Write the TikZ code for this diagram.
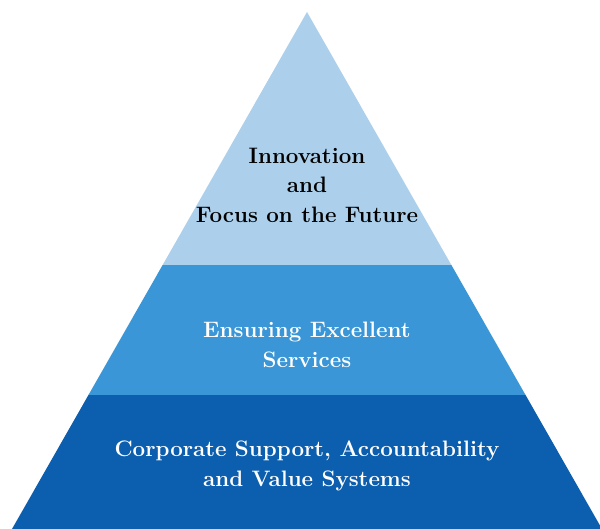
\documentclass[tikz,border=0pt]{standalone}
\usepackage{tikz}
\usetikzlibrary{calc}
\usepackage{xcolor}
\definecolor{tiertop}{RGB}{172,208,236}
\definecolor{tiermid}{RGB}{58,150,214}
\definecolor{tierbase}{RGB}{12,94,174}

\begin{document}
\begin{tikzpicture}[
  every node/.style={font=\bfseries\fontsize{15.9}{21}\selectfont, align=center},
  topT/.style={text=black},
  lowT/.style={text=white},
]
\useasboundingbox (0,0) rectangle (15,13.225);
\clip (0,0) rectangle (15,13.225);
% corners of the pyramid and the two cuts
\coordinate (apex) at (7.675,12.925);
\coordinate (bl) at (0.3,0);
\coordinate (br) at (15.05,0);
\coordinate (ml) at ($(apex)!{(12.925-3.35)/12.925}!(bl)$);
\coordinate (mr) at ($(apex)!{(12.925-3.35)/12.925}!(br)$);
\coordinate (ul) at ($(apex)!{(12.925-6.6)/12.925}!(bl)$);
\coordinate (ur) at ($(apex)!{(12.925-6.6)/12.925}!(br)$);
\fill[tierbase] (bl) -- (br) -- (mr) -- (ml) -- cycle;
\fill[tiermid] (ml) -- (mr) -- (ur) -- (ul) -- cycle;
\fill[tiertop] (ul) -- (ur) -- (apex) -- cycle;
\node[topT] (top) at (7.675,8.6) {Innovation\\and\\Focus on the Future};
\node[lowT] (mid) at (7.675,4.6) {Ensuring Excellent\\Services};
\node[lowT] (base) at (7.675,1.575) {Corporate Support, Accountability\\and Value Systems};
\end{tikzpicture}
\end{document}
